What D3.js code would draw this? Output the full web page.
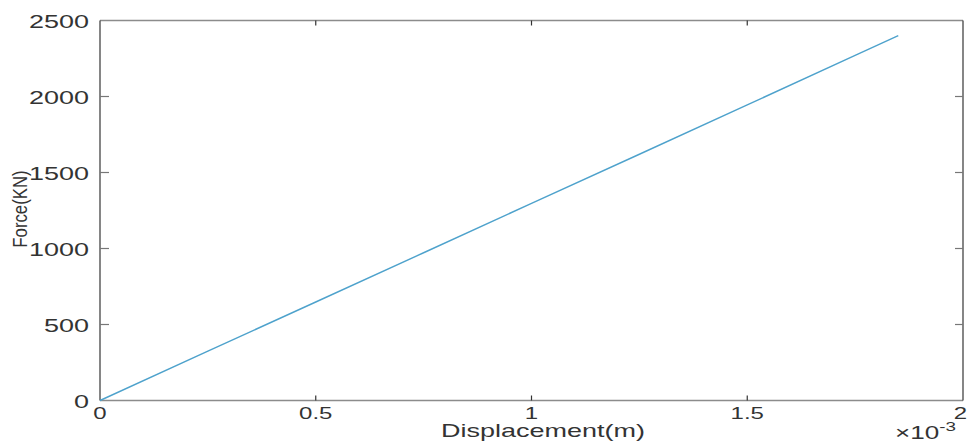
<!DOCTYPE html>
<html><head><meta charset="utf-8">
<script src="https://cdn.jsdelivr.net/npm/d3@7"></script>
<style>
html,body{margin:0;padding:0;background:#fff;}
svg text{font-family:"Liberation Sans",Arial,sans-serif;fill:#333;}
</style></head>
<body><svg id="c" width="968" height="448"></svg>
<script>
const displacement = [0, 0.25e-3, 0.5e-3, 0.75e-3, 1.0e-3, 1.25e-3, 1.5e-3, 1.75e-3, 1.85e-3];
const force = [0, 325, 648, 972, 1297, 1620, 1945, 2270, 2400];
const xTicks = [0, 0.5e-3, 1e-3, 1.5e-3, 2e-3];
const xTickLabels = ["0", "0.5", "1", "1.5", "2"];
const yTicks = [0, 500, 1000, 1500, 2000, 2500];
const xLabel = "Displacement(m)";
const yLabel = "Force(KN)";

const svg = d3.select("#c");
const L = 100, R = 963, T = 20.5, B = 400.5;
const x = d3.scaleLinear().domain([0, 2e-3]).range([L, R]);
const y = d3.scaleLinear().domain([0, 2500]).range([B, T]);
const SX = 1.5;

function stext(px, py, str, size, anchor, sx) {
  return svg.append("text")
    .attr("transform", `translate(${px},${py}) scale(${sx},1)`)
    .attr("text-anchor", anchor)
    .attr("dominant-baseline", "central")
    .style("font-size", size + "px")
    .text(str);
}

// box
svg.append("line").attr("x1", L).attr("x2", R).attr("y1", T).attr("y2", T).attr("stroke", "#8c8c8c").attr("stroke-width", 1.6);
svg.append("line").attr("x1", L).attr("x2", R).attr("y1", B).attr("y2", B).attr("stroke", "#8c8c8c").attr("stroke-width", 1.6);
svg.append("line").attr("x1", L).attr("x2", L).attr("y1", T).attr("y2", B).attr("stroke", "#444").attr("stroke-width", 1.3);
svg.append("line").attr("x1", R).attr("x2", R).attr("y1", T).attr("y2", B).attr("stroke", "#444").attr("stroke-width", 1.3);

// x ticks
xTicks.forEach((t, i) => {
  const px = x(t);
  if (i > 0 && i < xTicks.length - 1) {
    svg.append("line").attr("x1", px).attr("x2", px).attr("y1", B).attr("y2", B - 5).attr("stroke", "#333").attr("stroke-width", 1.2);
    svg.append("line").attr("x1", px).attr("x2", px).attr("y1", T).attr("y2", T + 5).attr("stroke", "#333").attr("stroke-width", 1.2);
  }
  const last = i === xTicks.length - 1;
  stext(last ? 967 : px, 414, xTickLabels[i], 16, last ? "end" : "middle", SX);
});
// y ticks
yTicks.forEach((t, i) => {
  const py = y(t);
  if (i > 0 && i < yTicks.length - 1) {
    svg.append("line").attr("x1", L).attr("x2", L + 9).attr("y1", py).attr("y2", py).attr("stroke", "#777").attr("stroke-width", 1.2);
    svg.append("line").attr("x1", R).attr("x2", R - 8).attr("y1", py).attr("y2", py).attr("stroke", "#777").attr("stroke-width", 1.2);
  }
  stext(89, py + 1, String(t), 18, "end", SX);
});

// line
const line = d3.line().x((d, i) => x(displacement[i])).y((d, i) => y(force[i]));
svg.append("path").datum(force).attr("d", line).attr("fill", "none").attr("stroke", "#4ea2cc").attr("stroke-width", 1.4);

// labels
stext(543, 431, xLabel, 18, "middle", 1.5);
svg.append("text")
  .attr("transform", `translate(20,209) rotate(-90) scale(1.05,1.25)`)
  .attr("text-anchor", "middle").attr("dominant-baseline", "central")
  .style("font-size", "16px").text(yLabel);

// exponent
const ex = svg.append("text").attr("transform", `translate(895,439) scale(1.45,1)`).style("font-size", "18px");
ex.append("tspan").text("\u00d710");
ex.append("tspan").attr("dy", -8).style("font-size", "13px").text("-3");
</script>
</body></html>
